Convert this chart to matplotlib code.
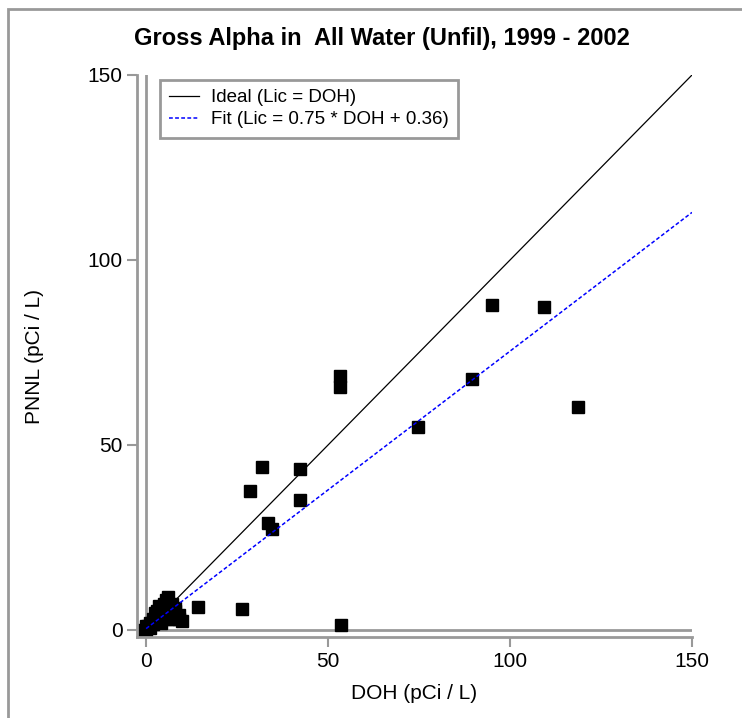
import numpy as np
import matplotlib.pyplot as plt
from matplotlib.patches import Rectangle

plt.rcParams['font.family'] = ['Liberation Sans', 'DejaVu Sans']

# DOH vs PNNL readings (pCi / L)
doh = [95.1, 109.3, 118.7, 89.6, 74.7, 53.3, 53.3, 31.9, 42.3, 28.6, 42.3,
       33.5, 34.6, 53.6, 26.4, 14.3,
       0.0, 0.5, 1.0, 1.5, 2.0, 3.0, 3.0, 4.0, 5.0, 5.0, 6.0, 6.0, 7.0, 8.0,
       9.0, 9.0, 8.0, 2.0, 1.0, 4.0, -0.8, 0.0, 6.0, 7.0, 5.5, 3.5, 10.0, 2.5]
pnnl = [87.8, 87.3, 60.3, 67.8, 54.9, 68.6, 65.7, 44.1, 43.5, 37.6, 35.1,
        28.9, 27.3, 1.4, 5.7, 6.2,
        0.0, 1.0, 0.5, 2.0, 1.5, 3.0, 5.0, 6.0, 4.0, 7.0, 9.0, 5.0, 3.0, 5.0,
        4.0, 3.0, 6.0, 3.0, 2.0, 2.0, 0.0, 1.0, 3.0, 7.0, 8.0, 6.5, 2.5, 4.5]

fit_slope = 0.75
fit_icpt = 0.36
xline = np.array([0, 150])

ticks = [0, 50, 100, 150]
gray = '#999999'

fig = plt.figure(figsize=(7.42, 7.18), dpi=100)
ax = fig.add_axes([137/742, 81/718, (692-137)/742, (637-75)/718])

ax.axhline(0, color=gray, lw=2, zorder=1)
ax.axvline(0, color=gray, lw=2, zorder=1)

ax.plot(xline, xline, color='black', lw=0.9, label='Ideal (Lic = DOH)', zorder=3)
ax.plot(xline, fit_slope*xline + fit_icpt, color='#0000ff', lw=1.1,
        ls=(0, (2.5, 1.5)), label='Fit (Lic = 0.75 * DOH + 0.36)', zorder=3)
ax.plot(doh, pnnl, 's', color='black', ms=8.6, zorder=2)

ax.set_xlim(-2.5, 150)
ax.set_ylim(-1.9, 150)
ax.set_xticks(ticks)
ax.set_yticks(ticks)
ax.tick_params(labelsize=15, length=7, width=1.5, color=gray, direction='out')
for s in ['top', 'right']:
    ax.spines[s].set_visible(False)
for s in ['left', 'bottom']:
    ax.spines[s].set_color(gray)
    ax.spines[s].set_linewidth(2)

ax.set_xlabel('DOH (pCi / L)', fontsize=15, labelpad=10)
ax.set_ylabel('PNNL (pCi / L)', fontsize=15, labelpad=31)

leg = ax.legend(loc='upper left', bbox_to_anchor=(160/742, 1-80/718),
                bbox_transform=fig.transFigure, borderaxespad=0, fontsize=13.5,
                fancybox=False, framealpha=1, handlelength=1.6,
                handletextpad=0.6, borderpad=0.5, labelspacing=0.25)
leg.get_frame().set_edgecolor(gray)
leg.get_frame().set_linewidth(2)

fig.text(0.5*(133+630)/742, 1-38/718, 'Gross Alpha in  All Water (Unfil), 1999 - 2002',
         ha='center', va='center', fontsize=17, fontweight='bold',
         family=['Liberation Sans Narrow', 'Liberation Sans', 'DejaVu Sans'])

fig.patches.append(Rectangle((8/742, -0.1), 1.2, 1.1 - 9/718,
                             transform=fig.transFigure, fill=False,
                             edgecolor=gray, lw=2))

fig.savefig('out.png', dpi=100)
